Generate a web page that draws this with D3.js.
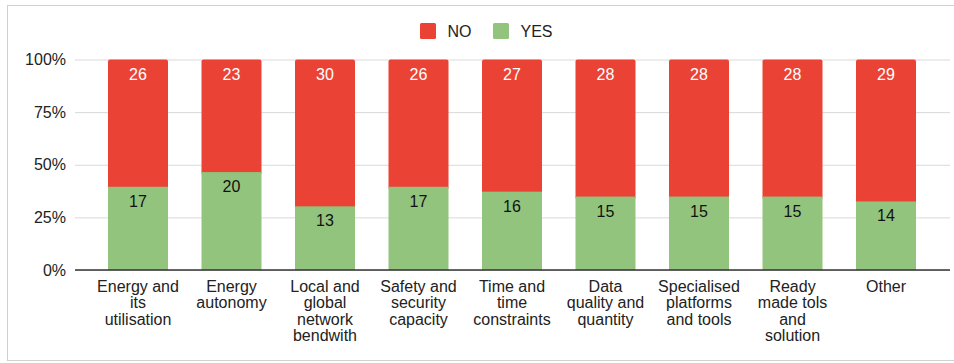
<!DOCTYPE html>
<html>
<head>
<meta charset="utf-8">
<script src="https://cdn.jsdelivr.net/npm/d3@7"></script>
<style>
  html, body { margin: 0; padding: 0; background: #fff; }
  svg { display: block; font-family: "Liberation Sans", Arial, sans-serif; }
</style>
</head>
<body>
<svg id="chart" width="954" height="363"></svg>
<script>
// Survey answers per challenge area
const categories = [
  ["Energy and", "its", "utilisation"],
  ["Energy", "autonomy"],
  ["Local and", "global", "network", "bendwith"],
  ["Safety and", "security", "capacity"],
  ["Time and", "time", "constraints"],
  ["Data", "quality and", "quantity"],
  ["Specialised", "platforms", "and tools"],
  ["Ready", "made tols", "and", "solution"],
  ["Other"]
];
const yesValues = [17, 20, 13, 17, 16, 15, 15, 15, 14];
const noValues  = [26, 23, 30, 26, 27, 28, 28, 28, 29];
const tickValues = [0, 0.25, 0.5, 0.75, 1];
const seriesNames = ["NO", "YES"];

const colors = { NO: "#ea4335", YES: "#93c47d" };

const svg = d3.select("#chart");

// Outer frame
svg.append("rect")
  .attr("x", 7.5).attr("y", 5.5)
  .attr("width", 1000).attr("height", 355)
  .attr("fill", "none").attr("stroke", "#d0d0d0");

const rows = categories.map((c, i) => {
  const total = yesValues[i] + noValues[i];
  return { key: c.join(" "), lines: c, yes: yesValues[i], no: noValues[i], yesShare: yesValues[i] / total };
});

const x = d3.scaleBand()
  .domain(rows.map(d => d.key))
  .range([91.25, 932.75])
  .paddingInner(1 - 60 / 93.5)
  .paddingOuter((1 - 60 / 93.5) / 2);

const y = d3.scaleLinear().domain([0, 1]).range([270, 59.5]);

const gridX0 = 75, gridX1 = 950;

// Gridlines and tick labels
const yAxis = d3.axisLeft(y)
  .tickValues(tickValues)
  .tickFormat(d3.format(".0%"))
  .tickSize(-(gridX1 - gridX0))
  .tickPadding(9);

const gy = svg.append("g")
  .attr("transform", `translate(${gridX0},0)`)
  .call(yAxis);
gy.select(".domain").remove();
gy.selectAll(".tick line").attr("stroke", "#d9d9d9").attr("stroke-width", 1);
gy.selectAll(".tick text")
  .attr("fill", "#222")
  .style("font-size", "16px")
  .style("font-family", "'Liberation Sans', Arial, sans-serif");

// Bars
const bars = svg.append("g").selectAll("g").data(rows).join("g");

bars.append("rect")
  .attr("x", d => x(d.key))
  .attr("width", x.bandwidth())
  .attr("y", y(1))
  .attr("height", d => y(d.yesShare) - y(1) + 3)
  .attr("rx", 2)
  .attr("fill", colors.NO);

bars.append("rect")
  .attr("x", d => x(d.key))
  .attr("width", x.bandwidth())
  .attr("y", d => y(d.yesShare))
  .attr("height", d => y(0) - y(d.yesShare))
  .attr("fill", colors.YES);

// Value labels
bars.append("text")
  .attr("x", d => x(d.key) + x.bandwidth() / 2)
  .attr("y", y(1) + 20)
  .attr("text-anchor", "middle")
  .attr("fill", "#fff")
  .style("font-size", "16px")
  .text(d => d.no);

bars.append("text")
  .attr("x", d => x(d.key) + x.bandwidth() / 2)
  .attr("y", d => y(d.yesShare) + 20)
  .attr("text-anchor", "middle")
  .attr("fill", "#111")
  .style("font-size", "16px")
  .text(d => d.yes);

// Baseline
svg.append("line")
  .attr("x1", gridX0).attr("x2", gridX1)
  .attr("y1", y(0)).attr("y2", y(0))
  .attr("stroke", "#333").attr("stroke-width", 1.3);

// Category labels
const gx = svg.append("g");
rows.forEach(d => {
  const t = gx.append("text")
    .attr("text-anchor", "middle")
    .attr("fill", "#222")
    .style("font-size", "16px");
  d.lines.forEach((ln, j) => {
    t.append("tspan")
      .attr("x", x(d.key) + x.bandwidth() / 2)
      .attr("y", y(0) + 21.5 + j * 16.5)
      .text(ln);
  });
});

// Legend
const legendItems = [
  { name: seriesNames[0], x: 420 },
  { name: seriesNames[1], x: 493 }
];
const lg = svg.append("g").selectAll("g").data(legendItems).join("g")
  .attr("transform", d => `translate(${d.x},23)`);
lg.append("rect")
  .attr("width", 16).attr("height", 16).attr("rx", 1.5)
  .attr("fill", d => colors[d.name]);
lg.append("text")
  .attr("x", 27.5).attr("y", 13.7)
  .attr("fill", "#222")
  .style("font-size", "16px")
  .text(d => d.name);
</script>
</body>
</html>
